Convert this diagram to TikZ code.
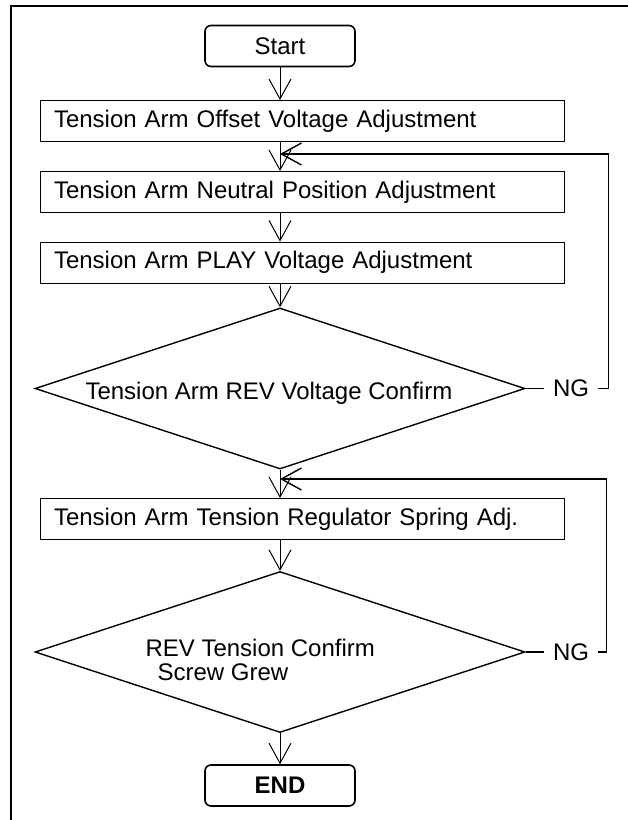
\documentclass[tikz,border=0pt]{standalone}
\usepackage{fontspec}
\setmainfont{Liberation Sans}
\usetikzlibrary{positioning,shapes.geometric,arrows.meta}

\begin{document}
\begin{tikzpicture}[x=1pt, y=-1pt,
    txt/.style={font=\fontsize{24}{25}\selectfont},
    term/.style={txt, draw, line width=1.6pt, rounded corners=6pt,
                 minimum width=150pt, minimum height=41pt, inner sep=0pt},
    stepbox/.style={txt, draw, line width=1pt, minimum height=41pt,
                    text width=496pt, inner xsep=14pt, inner ysep=0pt, align=left},
    check/.style={draw, diamond, line width=1.4pt, aspect=3.04,
                  minimum width=490pt, minimum height=161pt, inner sep=0pt},
    ngtag/.style={txt, inner xsep=9pt, inner ysep=0pt},
    flow/.style={line width=1pt, -{Straight Barb[length=20pt, width=22pt]}},
    loop/.style={line width=1.4pt}]
  \useasboundingbox (0,0) rectangle (628,820);
  % Frame — top and left side only
  \draw[line width=2.4pt] (628,6) -- (11,6) -- (11,820);
  % Terminals
  \node[term] (start)  at (280,46)    {Start};
  \node[term, font=\fontsize{24}{25}\selectfont\bfseries] (finish) at (280,785.5) {END};
  % Adjustment steps
  \node[stepbox] (box1) at (302,121)   {Tension Arm Offset Voltage Adjustment};
  \node[stepbox] (box2) at (302,192)   {Tension Arm Neutral Position Adjustment};
  \node[stepbox] (box3) at (302,262.5) {Tension Arm PLAY Voltage Adjustment};
  \node[stepbox] (box4) at (302,519)   {Tension Arm Tension Regulator Spring Adj.};
  % Checks
  \node[check] (d1) at (280,388.5) {};
  \node[check] (d2) at (280,652)   {};
  \node[txt, anchor=base west] (q1)  at (82,399)  {Tension Arm REV Voltage Confirm};
  \node[txt, anchor=base west] (q2a) at (142,656) {REV Tension Confirm};
  \node[txt, anchor=base west] (q2b) at (154,680) {Screw Grew};
  \node[ngtag] (ng1) at (571,388.5) {NG};
  \node[ngtag] (ng2) at (571,652)   {NG};
  % Re-entry points of the NG loops
  \coordinate (m1) at (280,154);
  \coordinate (m2) at (280,479);
  % Main flow
  \draw[flow] (start.south) -- (box1.north -| start.south);
  \draw[flow] (box1.south -| start) -- (box2.north -| start);
  \draw[flow] (box2.south -| start) -- (box3.north -| start);
  \draw[flow] (box3.south -| start) -- (d1.north);
  \draw[flow] (d1.south) -- (box4.north -| start);
  \draw[flow] (box4.south -| start) -- (d2.north);
  \draw[flow] (d2.south) -- (finish.north);
  % NG loops
  \draw[loop] (d1.east) -- (ng1.west);
  \draw[loop, flow, line width=1.4pt] (ng1.east) -- ++(10,0) |- (m1);
  \draw[loop] (d2.east) -- (ng2.west);
  \draw[loop, flow, line width=1.4pt] (ng2.east) -- ++(8,0) |- (m2);
\end{tikzpicture}
\end{document}
